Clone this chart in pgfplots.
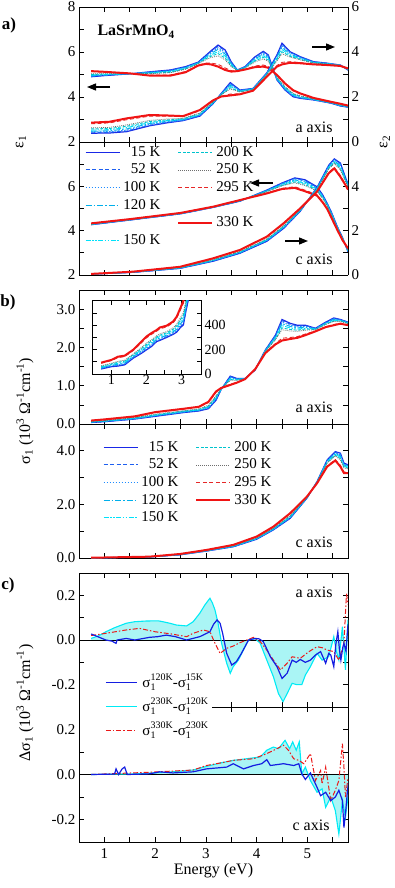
\documentclass[border=0pt]{standalone}
\usepackage{fontspec}
\setmainfont{Liberation Serif}
\usepackage{amsmath}
\usepackage{pgfplots}
\usepackage{pgfplotstable}
\pgfplotsset{compat=1.18}
\usetikzlibrary{arrows.meta}

\definecolor{c15}{RGB}{25,40,230}
\definecolor{c52}{RGB}{30,95,240}
\definecolor{c100}{RGB}{30,140,255}
\definecolor{c120}{RGB}{0,175,235}
\definecolor{c150}{RGB}{0,225,250}
\definecolor{c200}{RGB}{0,195,205}
\definecolor{c250}{RGB}{110,110,110}
\definecolor{c295}{RGB}{230,40,40}
\definecolor{c330}{RGB}{240,20,20}
\definecolor{fillc}{RGB}{170,245,245}
\definecolor{dblue}{RGB}{20,30,225}
\definecolor{dcyan}{RGB}{0,235,245}
\definecolor{dred}{RGB}{235,25,25}

\pgfplotsset{
 s15/.style={c15, line width=1.2pt},
 s52/.style={c52, line width=0.9pt, dash pattern=on 4pt off 2.5pt},
 s100/.style={c100, line width=0.9pt, dash pattern=on 1.5pt off 1.5pt},
 s120/.style={c120, line width=0.9pt, dash pattern=on 6pt off 2pt on 1.5pt off 2pt},
 s150/.style={c150, line width=0.9pt, dash pattern=on 5pt off 1.5pt on 1.5pt off 1.5pt on 1.5pt off 1.5pt},
 s200/.style={c200, line width=0.9pt, dash pattern=on 3pt off 1.5pt},
 s250/.style={c250, line width=0.7pt, dash pattern=on 1pt off 1pt},
 s295/.style={c295, line width=0.9pt, dash pattern=on 4pt off 2.5pt},
 s330/.style={c330, line width=2pt},
 panel/.style={scale only axis, width=269pt, anchor=south west,
   xmin=0.5, xmax=5.8, xtick={1,2,3,4,5}, minor xtick={1.5,2.5,3.5,4.5,5.5},
   xticklabels={}, tick align=inside, major tick length=5pt, minor tick length=5pt,
   tick style={black, line width=0.7pt}, minor tick style={black, line width=0.7pt},
   axis line style={black, line width=0.8pt},
   ticklabel style={font=\fontsize{15}{15}\selectfont},
   /pgf/number format/assume math mode=true},
 tlegend/.style={legend columns=2,
   legend image code/.code={\draw[##1] (0pt,0pt) -- (34pt,0pt);},
   legend cell align=right,
   legend style={draw=none, fill=none, inner sep=0pt, row sep=3.6pt,
     font=\fontsize{15}{15}\selectfont,
     nodes={inner sep=0pt, text height=11pt, text depth=3pt},
     /tikz/every odd column/.append style={column sep=3pt},
     /tikz/every even column/.append style={column sep=17pt}}},
}

\newcommand{\allT}[1]{%
 \addplot[s15, forget plot] table[x=E,y=T15]{#1};
 \addplot[s52, forget plot] table[x=E,y=T52]{#1};
 \addplot[s100, forget plot] table[x=E,y=T100]{#1};
 \addplot[s120, forget plot] table[x=E,y=T120]{#1};
 \addplot[s150, forget plot] table[x=E,y=T150]{#1};
 \addplot[s200, forget plot] table[x=E,y=T200]{#1};
 \addplot[s250, forget plot] table[x=E,y=T250]{#1};
 \addplot[s295, forget plot] table[x=E,y=T295]{#1};
 \addplot[s330, forget plot] table[x=E,y=T330]{#1};}
\newcommand{\sg}[1]{σ\rlap{\raisebox{-3.5pt}{\fontsize{10}{10}\selectfont 1}}\raisebox{6.5pt}{\fontsize{10}{10}\selectfont #1}}

% a axis, eps1
\pgfplotstableread{
E T15 T52 T100 T120 T150 T200 T250 T295 T330
0.74 4.90 4.91 4.93 4.95 4.98 5.00 5.03 5.13 5.15
1.00 4.95 4.96 4.97 4.98 5.00 5.02 5.04 5.10 5.12
1.50 5.03 5.03 5.03 5.03 5.04 5.04 5.04 5.05 5.05
1.90 5.12 5.11 5.10 5.09 5.07 5.05 5.04 4.97 4.95
2.30 5.20 5.19 5.17 5.15 5.13 5.10 5.08 4.98 4.95
2.60 5.35 5.34 5.32 5.30 5.28 5.25 5.23 5.13 5.10
2.85 5.55 5.54 5.53 5.52 5.51 5.49 5.48 5.42 5.40
3.00 5.85 5.83 5.80 5.77 5.74 5.70 5.66 5.51 5.47
3.10 6.05 6.02 5.98 5.93 5.87 5.81 5.75 5.51 5.45
3.24 6.31 6.26 6.19 6.12 6.02 5.93 5.83 5.45 5.35
3.38 6.09 6.05 5.98 5.91 5.82 5.73 5.65 5.29 5.20
3.50 5.56 5.54 5.51 5.47 5.43 5.39 5.35 5.17 5.13
3.62 5.20 5.20 5.19 5.19 5.19 5.18 5.18 5.16 5.15
3.77 5.35 5.34 5.33 5.32 5.31 5.30 5.29 5.23 5.22
3.97 5.79 5.77 5.73 5.70 5.65 5.61 5.56 5.38 5.33
4.13 6.03 6.00 5.95 5.89 5.83 5.76 5.69 5.42 5.35
4.23 5.87 5.84 5.80 5.76 5.70 5.64 5.59 5.36 5.30
4.31 5.35 5.34 5.33 5.31 5.29 5.27 5.25 5.17 5.15
4.40 4.76 4.77 4.79 4.80 4.83 4.85 4.87 4.96 4.98
4.56 4.31 4.32 4.34 4.37 4.40 4.43 4.46 4.57 4.60
4.72 4.01 4.02 4.04 4.07 4.10 4.13 4.16 4.27 4.30
4.86 3.94 3.95 3.97 3.98 4.01 4.03 4.05 4.14 4.16
5.12 3.87 3.87 3.88 3.89 3.90 3.91 3.92 3.95 3.96
5.46 3.73 3.73 3.74 3.74 3.75 3.75 3.76 3.78 3.79
5.65 3.60 3.61 3.61 3.62 3.63 3.64 3.65 3.69 3.70
5.80 3.55 3.55 3.56 3.56 3.57 3.58 3.59 3.61 3.62
}\tAe
% a axis, eps2
\pgfplotstableread{
E T15 T52 T100 T120 T150 T200 T250 T295 T330
0.74 0.39 0.41 0.45 0.48 0.53 0.58 0.63 0.81 0.86
1.10 0.40 0.43 0.46 0.50 0.55 0.60 0.65 0.85 0.90
1.44 0.46 0.49 0.53 0.58 0.64 0.70 0.76 0.99 1.05
1.89 0.72 0.74 0.78 0.82 0.86 0.91 0.96 1.15 1.20
2.23 0.85 0.87 0.89 0.92 0.95 0.98 1.02 1.15 1.18
2.55 0.95 0.96 0.97 0.99 1.01 1.03 1.05 1.13 1.15
2.88 1.15 1.16 1.18 1.20 1.23 1.26 1.29 1.39 1.42
3.14 1.70 1.71 1.72 1.73 1.75 1.76 1.78 1.84 1.85
3.30 2.15 2.14 2.13 2.12 2.11 2.10 2.09 2.03 2.02
3.48 2.64 2.61 2.57 2.53 2.47 2.41 2.36 2.13 2.07
3.67 2.31 2.30 2.29 2.27 2.25 2.23 2.22 2.14 2.12
3.93 2.38 2.38 2.37 2.36 2.35 2.34 2.33 2.29 2.28
4.20 3.07 3.06 3.05 3.04 3.02 3.00 2.99 2.92 2.90
4.40 3.87 3.84 3.81 3.77 3.71 3.66 3.61 3.40 3.35
4.50 4.39 4.34 4.28 4.20 4.11 4.01 3.92 3.54 3.45
4.66 4.01 3.99 3.95 3.91 3.86 3.81 3.77 3.57 3.52
4.86 3.79 3.78 3.76 3.73 3.70 3.67 3.65 3.53 3.50
5.12 3.57 3.56 3.56 3.55 3.53 3.52 3.51 3.46 3.45
5.40 3.50 3.50 3.49 3.48 3.48 3.47 3.46 3.43 3.42
5.65 3.42 3.42 3.42 3.41 3.41 3.40 3.40 3.38 3.38
5.80 3.20 3.20 3.21 3.21 3.22 3.23 3.24 3.26 3.27
}\tAf
% c axis, eps1
\pgfplotstableread{
E T15 T52 T100 T120 T150 T200 T250 T295 T330
0.74 4.27 4.27 4.28 4.28 4.29 4.29 4.30 4.32 4.33
1.50 4.48 4.48 4.48 4.49 4.49 4.50 4.50 4.52 4.52
2.50 4.76 4.76 4.76 4.77 4.77 4.78 4.78 4.80 4.80
3.14 5.05 5.05 5.05 5.06 5.06 5.06 5.07 5.08 5.08
3.67 5.33 5.33 5.34 5.34 5.35 5.35 5.36 5.38 5.38
4.20 5.83 5.82 5.81 5.80 5.79 5.77 5.76 5.70 5.68
4.50 6.15 6.14 6.12 6.10 6.07 6.04 6.02 5.91 5.88
4.75 6.38 6.36 6.33 6.29 6.25 6.20 6.16 5.98 5.93
4.95 6.30 6.27 6.24 6.20 6.14 6.09 6.04 5.83 5.78
5.19 5.98 5.96 5.93 5.90 5.86 5.82 5.78 5.62 5.58
5.30 5.62 5.60 5.58 5.55 5.52 5.48 5.45 5.31 5.28
5.39 5.23 5.22 5.20 5.18 5.16 5.13 5.11 5.01 4.98
5.47 4.85 4.84 4.82 4.80 4.78 4.75 4.73 4.63 4.60
5.59 4.18 4.17 4.16 4.15 4.14 4.12 4.11 4.05 4.03
5.69 3.70 3.69 3.69 3.68 3.66 3.65 3.64 3.59 3.58
5.80 3.05 3.06 3.07 3.08 3.10 3.11 3.13 3.19 3.20
}\tCe
% c axis, eps2
\pgfplotstableread{
E T15 T52 T100 T120 T150 T200 T250 T295 T330
0.74 0.04 0.04 0.04 0.04 0.04 0.04 0.05 0.05 0.05
1.56 0.12 0.12 0.12 0.13 0.13 0.13 0.14 0.15 0.15
2.49 0.30 0.30 0.31 0.31 0.32 0.33 0.34 0.36 0.37
3.14 0.62 0.63 0.64 0.65 0.66 0.67 0.69 0.74 0.75
3.67 0.98 0.99 1.00 1.01 1.03 1.04 1.06 1.12 1.13
4.20 1.52 1.53 1.55 1.56 1.58 1.60 1.63 1.71 1.73
4.53 2.10 2.11 2.13 2.15 2.17 2.19 2.22 2.31 2.33
4.86 2.88 2.89 2.90 2.91 2.92 2.93 2.95 3.00 3.01
5.19 3.95 3.94 3.93 3.91 3.89 3.87 3.86 3.78 3.76
5.42 4.95 4.93 4.91 4.88 4.84 4.81 4.77 4.63 4.59
5.53 5.24 5.22 5.19 5.15 5.11 5.07 5.03 4.85 4.81
5.65 5.05 5.02 4.98 4.93 4.86 4.80 4.74 4.49 4.43
5.75 4.40 4.38 4.36 4.33 4.30 4.26 4.23 4.09 4.06
5.80 4.10 4.09 4.07 4.05 4.03 4.00 3.98 3.88 3.85
}\tCf
% a axis, sigma1
\pgfplotstableread{
E T15 T52 T100 T120 T150 T200 T250 T295 T330
0.74 0.04 0.04 0.05 0.05 0.06 0.06 0.07 0.09 0.09
1.00 0.06 0.06 0.07 0.07 0.08 0.08 0.09 0.11 0.12
1.60 0.13 0.13 0.14 0.14 0.15 0.16 0.17 0.19 0.20
2.00 0.20 0.21 0.21 0.22 0.23 0.24 0.26 0.30 0.31
2.57 0.30 0.31 0.31 0.32 0.33 0.34 0.35 0.39 0.40
2.86 0.34 0.35 0.35 0.36 0.37 0.38 0.40 0.44 0.45
3.05 0.40 0.41 0.42 0.44 0.45 0.47 0.49 0.56 0.58
3.20 0.62 0.63 0.65 0.67 0.69 0.71 0.74 0.83 0.85
3.30 0.90 0.90 0.90 0.91 0.91 0.92 0.92 0.94 0.94
3.48 1.25 1.24 1.22 1.20 1.18 1.16 1.14 1.04 1.02
3.61 1.19 1.18 1.18 1.17 1.16 1.15 1.14 1.09 1.08
3.77 1.19 1.19 1.19 1.19 1.18 1.18 1.18 1.17 1.17
3.97 1.41 1.41 1.41 1.41 1.42 1.42 1.42 1.43 1.43
4.17 1.93 1.93 1.92 1.91 1.91 1.90 1.89 1.86 1.85
4.37 2.32 2.31 2.29 2.27 2.25 2.22 2.20 2.10 2.08
4.50 2.73 2.70 2.66 2.62 2.57 2.51 2.46 2.24 2.18
4.66 2.63 2.61 2.58 2.55 2.51 2.47 2.43 2.26 2.22
4.80 2.58 2.56 2.54 2.51 2.48 2.45 2.42 2.28 2.25
4.96 2.58 2.57 2.55 2.53 2.50 2.48 2.45 2.35 2.32
5.16 2.50 2.50 2.49 2.48 2.48 2.47 2.46 2.43 2.42
5.36 2.66 2.65 2.64 2.63 2.62 2.61 2.60 2.54 2.53
5.52 2.77 2.76 2.75 2.73 2.71 2.69 2.68 2.60 2.58
5.65 2.73 2.72 2.72 2.71 2.70 2.69 2.68 2.63 2.62
5.80 2.66 2.66 2.65 2.64 2.64 2.63 2.62 2.59 2.58
}\tAs
% inset, a axis sigma1 in Ohm^-1 cm^-1
\pgfplotstableread{
E T15 T52 T100 T120 T150 T200 T250 T295 T330
0.71 41 44 47 51 57 62 67 88 93
1.00 60 63 67 71 77 82 88 110 115
1.19 65 69 74 80 88 96 104 134 142
1.38 75 79 84 90 98 105 113 143 150
1.62 129 132 137 143 150 157 164 191 198
1.86 170 175 182 189 199 208 218 256 266
2.00 198 203 211 220 231 242 253 296 307
2.14 225 231 238 247 258 269 280 324 335
2.29 266 271 277 285 294 304 313 351 360
2.38 275 280 288 296 307 317 328 370 381
2.57 299 304 311 318 328 337 347 385 395
2.76 325 330 338 346 357 367 378 420 430
2.86 343 349 358 368 381 394 407 457 470
2.95 375 383 394 406 422 437 453 515 530
3.05 403 413 427 442 462 482 502 580 600
3.12 513 521 533 546 563 580 597 663 680
3.20 620 632 648 666 689 712 735 827 850
}\tIn
% c axis, sigma1
\pgfplotstableread{
E T15 T52 T100 T120 T150 T200 T250 T295 T330
0.74 0.00 0.00 0.00 0.00 0.00 0.00 0.01 0.01 0.01
1.89 0.04 0.04 0.04 0.04 0.04 0.04 0.05 0.05 0.05
2.49 0.12 0.12 0.12 0.13 0.13 0.13 0.14 0.15 0.15
3.01 0.26 0.26 0.26 0.27 0.27 0.28 0.28 0.30 0.30
3.54 0.42 0.42 0.43 0.43 0.44 0.45 0.46 0.48 0.49
4.00 0.70 0.71 0.71 0.72 0.73 0.74 0.75 0.79 0.80
4.33 1.05 1.06 1.06 1.07 1.09 1.10 1.11 1.16 1.17
4.66 1.48 1.49 1.50 1.52 1.54 1.56 1.58 1.65 1.67
4.99 2.23 2.23 2.24 2.24 2.25 2.25 2.26 2.28 2.29
5.19 2.85 2.85 2.84 2.84 2.83 2.83 2.82 2.80 2.79
5.39 3.66 3.65 3.63 3.61 3.59 3.56 3.54 3.44 3.41
5.55 3.97 3.95 3.93 3.90 3.87 3.84 3.81 3.67 3.64
5.65 3.91 3.89 3.85 3.81 3.76 3.71 3.66 3.46 3.41
5.72 3.54 3.52 3.50 3.47 3.43 3.39 3.36 3.21 3.17
5.80 3.48 3.46 3.44 3.42 3.39 3.36 3.33 3.20 3.17
}\tCs
% Delta sigma1, a axis
\pgfplotstableread{
E D
0.74 0.027
1.03 0.0
1.15 -0.005
1.23 -0.015
1.25 0.0
1.43 0.007
1.60 0.0
1.89 0.012
2.05 0.015
2.22 0.022
2.40 0.015
2.62 0.0
2.88 0.015
3.08 0.037
3.15 0.070
3.22 0.090
3.28 0.075
3.33 0.030
3.41 -0.060
3.51 -0.112
3.60 -0.097
3.70 -0.060
3.84 0.0
3.97 0.007
4.05 0.005
4.13 -0.007
4.20 -0.040
4.27 -0.075
4.40 -0.119
4.50 -0.172
4.60 -0.149
4.70 -0.090
4.78 -0.100
4.86 -0.087
4.96 -0.100
5.06 -0.090
5.16 -0.067
5.26 -0.052
5.36 -0.104
5.42 -0.060
5.46 -0.067
5.52 -0.119
5.56 -0.020
5.60 0.037
5.63 -0.040
5.66 -0.090
5.70 -0.030
5.72 -0.015
5.76 -0.050
5.80 0.070
}\dAb
\pgfplotstableread{
E D
0.74 0.007
0.90 0.020
1.03 0.037
1.20 0.055
1.43 0.075
1.60 0.082
1.82 0.085
2.06 0.086
2.15 0.082
2.29 0.075
2.42 0.067
2.62 0.063
2.75 0.082
2.88 0.120
2.98 0.157
3.08 0.187
3.13 0.165
3.18 0.134
3.24 0.075
3.31 -0.015
3.41 -0.104
3.48 -0.149
3.54 -0.119
3.64 -0.090
3.74 -0.045
3.84 0.0
3.97 0.007
4.07 -0.015
4.20 -0.090
4.33 -0.164
4.43 -0.240
4.52 -0.276
4.60 -0.240
4.70 -0.194
4.79 -0.200
4.89 -0.200
4.96 -0.157
5.06 -0.119
5.19 -0.060
5.29 -0.090
5.42 -0.075
5.52 0.015
5.57 -0.050
5.62 -0.090
5.69 0.060
5.75 -0.134
5.80 0.090
}\dAc
\pgfplotstableread{
E D
0.74 0.020
1.03 0.030
1.43 0.045
1.69 0.052
2.00 0.037
2.32 0.027
2.62 0.015
2.75 0.030
2.95 0.045
3.08 0.037
3.18 -0.015
3.28 -0.060
3.41 -0.037
3.54 -0.027
3.67 -0.012
3.84 0.003
3.94 0.012
4.07 -0.007
4.20 -0.045
4.33 -0.090
4.47 -0.134
4.60 -0.104
4.70 -0.075
4.86 -0.082
5.03 -0.052
5.19 -0.030
5.30 -0.035
5.39 -0.045
5.52 -0.052
5.62 -0.090
5.72 -0.015
5.77 0.209
5.80 0.160
}\dAr
% Delta sigma1, c axis
\pgfplotstableread{
E D
0.74 0
1.20 0.002
1.23 0.025
1.28 0
1.35 0.025
1.40 0.033
1.45 0
1.89 0.003
2.09 0.012
2.35 0.007
2.75 0.012
3.01 0.025
3.41 0.033
3.54 0.048
3.74 0.025
3.94 0.040
4.10 0.048
4.20 0.066
4.27 0.040
4.53 0.048
4.73 0.040
4.83 0.048
4.89 0.003
4.96 -0.022
5.06 0.007
5.19 -0.057
5.26 -0.094
5.36 -0.079
5.46 -0.116
5.55 -0.100
5.62 -0.070
5.69 -0.116
5.72 -0.236
5.76 -0.150
5.79 -0.070
5.82 -0.027
}\dCb
\pgfplotstableread{
E D
0.74 0
1.56 0.003
2.22 0.010
2.75 0.020
3.01 0.036
3.28 0.051
3.54 0.063
3.80 0.070
4.07 0.078
4.20 0.108
4.33 0.122
4.43 0.115
4.56 0.152
4.65 0.115
4.71 0.145
4.78 0.108
4.84 0.145
4.89 0.003
4.96 0.033
5.06 -0.027
5.19 -0.079
5.29 -0.064
5.36 -0.146
5.46 -0.100
5.55 -0.160
5.62 -0.265
5.69 -0.116
5.75 -0.190
5.80 -0.100
}\dCc
\pgfplotstableread{
E D
0.74 0
1.89 0.010
2.75 0.020
3.01 0.040
3.28 0.051
3.54 0.063
3.94 0.070
4.20 0.093
4.33 0.107
4.53 0.130
4.63 0.107
4.73 0.070
4.83 0.063
4.93 0.048
5.06 0.093
5.16 -0.027
5.26 0.018
5.29 -0.042
5.36 0.033
5.46 -0.116
5.55 -0.070
5.62 -0.027
5.69 0.137
5.72 0.033
5.75 -0.100
5.80 -0.015
}\dCr
\pgfplotstableread{
E D
0.5 0
5.8 0
}\zeroline

\begin{document}
\begin{tikzpicture}[x=1pt,y=1pt]
% ---------- a) top: a axis ----------
\begin{axis}[panel, at={(79pt,-142pt)}, height=135pt, ymin=2, ymax=8,
  axis y line*=left, ytick={2,4,6,8}, minor ytick={3,5,7}, yticklabels={2,4,6,8}]
 \allT{\tAe}
\end{axis}
\begin{axis}[panel, at={(79pt,-142pt)}, height=135pt, ymin=0, ymax=6,
  axis y line*=right, axis x line=none, ytick={0,2,4,6}, minor ytick={1,3,5}, yticklabels={0,2,4,6}]
 \allT{\tAf}
\end{axis}
% ---------- a) bottom: c axis ----------
\begin{axis}[panel, at={(79pt,-275pt)}, height=133pt, ymin=2, ymax=8,
  axis y line*=left, ytick={2,4,6,8}, minor ytick={3,5,7}, yticklabels={2,4,6,{}}]
 \allT{\tCe}
\end{axis}
\begin{axis}[panel, at={(79pt,-275pt)}, height=133pt, ymin=0, ymax=6,
  axis y line*=right, axis x line=none, ytick={0,2,4,6}, minor ytick={1,3,5}, yticklabels={0,2,4,{}},
  tlegend, legend style={at={(0.022,0.977)}, anchor=north west}]
 \allT{\tCf}
 \addlegendimage{s15}\addlegendentry{15 K}
 \addlegendimage{s200}\addlegendentry{200 K}
 \addlegendimage{s52}\addlegendentry{52 K}
 \addlegendimage{s250}\addlegendentry{250 K}
 \addlegendimage{s100}\addlegendentry{100 K}
 \addlegendimage{s295}\addlegendentry{295 K}
 \addlegendimage{s120}\addlegendentry{120 K}
 \addlegendimage{empty legend}\addlegendentry{}
 \addlegendimage{empty legend}\addlegendentry{}
 \addlegendimage{s330}\addlegendentry{330 K}
 \addlegendimage{s150}\addlegendentry{150 K}
\end{axis}
% ---------- b) top: a axis sigma ----------
\begin{axis}[panel, at={(79pt,-424pt)}, height=134pt, ymin=0, ymax=3.5,
  ytick={0,1,2,3}, minor ytick={0.5,1.5,2.5}, yticklabels={0.0,1.0,2.0,3.0}]
 \allT{\tAs}
\end{axis}
% inset
\begin{axis}[scale only axis, at={(92.7pt,-374pt)}, anchor=south west, width=108.3pt, height=73.3pt,
  xmin=0.47, xmax=3.55, ymin=0, ymax=600, xtick={1,2,3}, minor xtick={1.5,2.5},
  ytick={0,200,400}, minor ytick={100,300,500}, yticklabel pos=right,
  tick align=inside, major tick length=4pt, minor tick length=4pt,
  tick style={black, line width=0.6pt}, minor tick style={black, line width=0.6pt},
  axis line style={black, line width=0.8pt},
  ticklabel style={font=\fontsize{14}{14}\selectfont},
  xticklabel style={yshift=2pt},
  /pgf/number format/assume math mode=true, axis background/.style={fill=white}]
 \allT{\tIn}
\end{axis}
% ---------- b) bottom: c axis sigma ----------
\begin{axis}[panel, at={(79pt,-558pt)}, height=134pt, ymin=0, ymax=5,
  ytick={0,1,2,3,4,5}, yticklabels={0.0,{},2.0,{},4.0,{}},
  tlegend, legend style={at={(0.089,0.88)}, anchor=north west}]
 \allT{\tCs}
 \addlegendimage{s15}\addlegendentry{15 K}
 \addlegendimage{s200}\addlegendentry{200 K}
 \addlegendimage{s52}\addlegendentry{52 K}
 \addlegendimage{s250}\addlegendentry{250 K}
 \addlegendimage{s100}\addlegendentry{100 K}
 \addlegendimage{s295}\addlegendentry{295 K}
 \addlegendimage{s120}\addlegendentry{120 K}
 \addlegendimage{s330}\addlegendentry{330 K}
 \addlegendimage{s150}\addlegendentry{150 K}
\end{axis}
% ---------- c) top: a axis delta ----------
\begin{axis}[panel, at={(79pt,-707pt)}, height=134pt, ymin=-0.3, ymax=0.3,
  ytick={-0.2,0,0.2}, minor ytick={-0.1,0.1}, yticklabels={-0.2,0.0,0.2}]
 \addplot[fill=fillc, draw=none] table[x=E,y=D]{\dAc} \closedcycle;
 \addplot[black, line width=1pt] table[x=E,y=D]{\zeroline};
 \addplot[dcyan, line width=1.1pt] table[x=E,y=D]{\dAc};
 \addplot[dred, line width=1pt, dash pattern=on 5pt off 2pt on 1.5pt off 2pt] table[x=E,y=D]{\dAr};
 \addplot[dblue, line width=1.2pt] table[x=E,y=D]{\dAb};
\end{axis}
% ---------- c) bottom: c axis delta ----------
\begin{axis}[panel, at={(79pt,-842pt)}, height=135pt, ymin=-0.3, ymax=0.3,
  ytick={-0.2,0,0.2}, minor ytick={-0.1,0.1}, yticklabels={-0.2,0.0,0.2},
  xticklabels={1,2,3,4,5}, xticklabel style={yshift=-3pt},
  xlabel={Energy (eV)}, xlabel style={font=\fontsize{16}{16}\selectfont, yshift=2pt},
  legend image code/.code={\path (-22pt,0pt); \draw[#1] (0pt,0pt) -- (31pt,0pt);},
  legend cell align=left,
  legend style={at={(0.004,1.289)}, anchor=north west, draw=none, fill=white,
    inner xsep=3pt, inner ysep=4pt, row sep=3pt,
    font=\fontsize{15}{15}\selectfont,
    nodes={inner sep=1pt, text height=14pt, text depth=5pt},
    /tikz/every odd column/.append style={column sep=4pt}}]
 \addplot[fill=fillc, draw=none, forget plot] table[x=E,y=D]{\dCc} \closedcycle;
 \addplot[black, line width=1pt, forget plot] table[x=E,y=D]{\zeroline};
 \addplot[dcyan, line width=1.1pt, forget plot] table[x=E,y=D]{\dCc};
 \addplot[dred, line width=1pt, dash pattern=on 5pt off 2pt on 1.5pt off 2pt, forget plot] table[x=E,y=D]{\dCr};
 \addplot[dblue, line width=1.2pt, forget plot] table[x=E,y=D]{\dCb};
 \addlegendimage{dblue, line width=1.2pt}\addlegendentry{\sg{120K}-\sg{15K}}
 \addlegendimage{dcyan, line width=1.2pt}\addlegendentry{\sg{230K}-\sg{120K}}
 \addlegendimage{dred, line width=1pt, dash pattern=on 5pt off 2pt on 1.5pt off 2pt}\addlegendentry{\sg{330K}-\sg{230K}}
\end{axis}
% ---------- annotations ----------
\begin{scope}[font=\fontsize{16}{16}\selectfont]
 \node[font=\bfseries\fontsize{17}{17}\selectfont] at (9,-25) {a)};
 \node[font=\bfseries\fontsize{17}{17}\selectfont] at (8,-302) {b)};
 \node[font=\bfseries\fontsize{17}{17}\selectfont] at (8,-585) {c)};
 \node[font=\bfseries\fontsize{16}{16}\selectfont, anchor=west] at (94,-32) {LaSrMnO\textsubscript{4}};
 \node[anchor=east] at (336,-127) {a axis};
 \node[anchor=east] at (336,-259) {c axis};
 \node[anchor=east] at (336,-407) {a axis};
 \node[anchor=east] at (336,-542) {c axis};
 \node[anchor=east] at (336,-592) {a axis};
 \node[anchor=east] at (333,-825) {c axis};
 \node[rotate=90] at (21,-142) {ε\textsubscript{1}};
 \node[rotate=90] at (385,-142) {ε\textsubscript{2}};
 \node[rotate=90] at (25,-411) {σ\textsubscript{1} (10\textsuperscript{3} Ω\textsuperscript{-1}cm\textsuperscript{-1})};
 \node[rotate=90] at (25,-703) {Δσ\textsubscript{1} (10\textsuperscript{3} Ω\textsuperscript{-1}cm\textsuperscript{-1})};
\end{scope}
\begin{scope}[line width=1.3pt, -{Triangle[length=9pt,width=7pt]}]
 \draw (110,-87) -- (87,-87);
 \draw (312,-47) -- (335,-47);
 \draw (273,-183) -- (250,-183);
 \draw (285,-241) -- (308,-241);
\end{scope}
\pgfresetboundingbox
\path[use as bounding box] (0,0) rectangle (394,-888);
\end{tikzpicture}
\end{document}
